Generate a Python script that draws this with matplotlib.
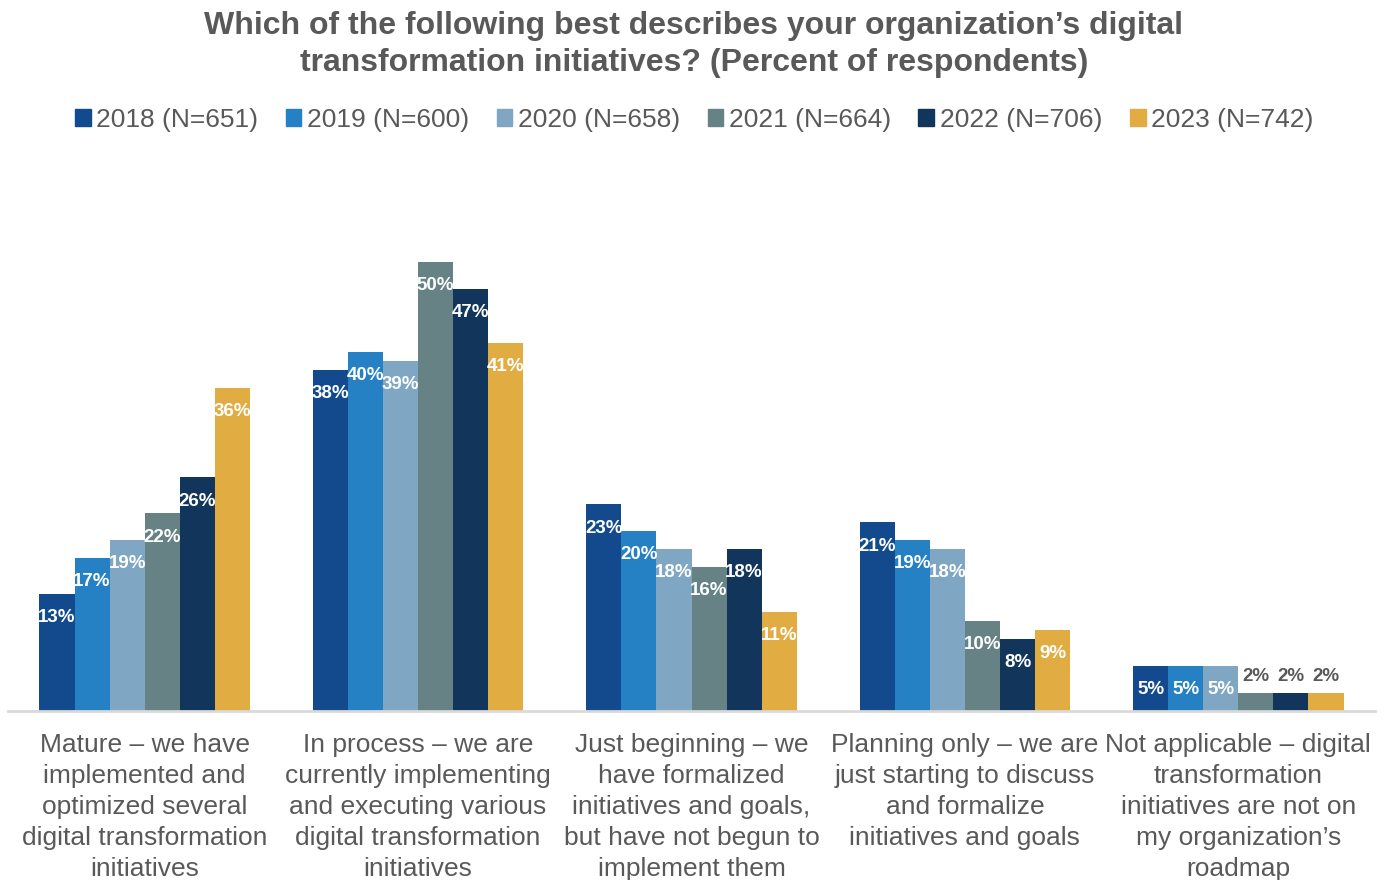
import matplotlib
matplotlib.use("Agg")
import matplotlib.pyplot as plt
from matplotlib.patches import Patch
import numpy as np

plt.rcParams['font.family'] = ['Liberation Sans', 'DejaVu Sans']

categories = [
    "Mature – we have\nimplemented and\noptimized several\ndigital transformation\ninitiatives",
    "In process – we are\ncurrently implementing\nand executing various\ndigital transformation\ninitiatives",
    "Just beginning – we\nhave formalized\ninitiatives and goals,\nbut have not begun to\nimplement them",
    "Planning only – we are\njust starting to discuss\nand formalize\ninitiatives and goals",
    "Not applicable – digital\ntransformation\ninitiatives are not on\nmy organization’s\nroadmap",
]
series_names = ["2018 (N=651)", "2019 (N=600)", "2020 (N=658)",
                "2021 (N=664)", "2022 (N=706)", "2023 (N=742)"]
v2018 = [13, 38, 23, 21, 5]
v2019 = [17, 40, 20, 19, 5]
v2020 = [19, 39, 18, 18, 5]
v2021 = [22, 50, 16, 10, 2]
v2022 = [26, 47, 18, 8, 2]
v2023 = [36, 41, 11, 9, 2]
series = [v2018, v2019, v2020, v2021, v2022, v2023]
colors = ["#134A8E", "#2581C4", "#7FA7C4", "#668285", "#12355B", "#E1AD42"]

fig = plt.figure(figsize=(13.88, 8.8), dpi=100)
ax = fig.add_axes([8/1388, 0.192, 1367/1388, 0.6125])

n = len(series)
x = np.arange(len(categories))
group_w = 0.77
bw = group_w / n
for i, (vals, c) in enumerate(zip(series, colors)):
    xs = x - group_w/2 + bw*(i+0.5)
    ax.bar(xs, vals, width=bw, color=c, edgecolor=c, linewidth=0)
    for xi, v in zip(xs, vals):
        if v >= 5:
            ax.annotate(f"{v}%", (xi, v), xytext=(0, -17), textcoords="offset points",
                        ha="center", va="center", color="white", fontsize=13.5,
                        fontweight="bold")
        else:
            ax.annotate(f"{v}%", (xi, v), xytext=(0, 12), textcoords="offset points",
                        ha="center", va="center", color="#595959", fontsize=13.5,
                        fontweight="bold")

ax.set_xlim(-0.5, len(categories)-0.5)
ax.set_ylim(0, 60)
ax.set_yticks([])
ax.set_xticks(x)
ax.set_xticklabels(categories, fontsize=19, color="#595959", linespacing=1.37, va="top")
ax.tick_params(axis="x", length=0, pad=16)
for s in ["top", "right", "left"]:
    ax.spines[s].set_visible(False)
ax.spines["bottom"].set_color("#D9D9D9")
ax.spines["bottom"].set_linewidth(2)

handles = [Patch(facecolor=c, edgecolor=c) for c in colors]
fig.legend(handles, series_names, loc="center", bbox_to_anchor=(0.5, 1 - 120/880),
           ncol=6, frameon=False, fontsize=19, labelcolor="#595959",
           handlelength=0.6, handleheight=0.6, handletextpad=0.2, columnspacing=1.05)

fig.text(0.5, 1 - 44.5/880,
         "Which of the following best describes your organization’s digital\ntransformation initiatives? (Percent of respondents)",
         ha="center", va="center", fontsize=23, fontweight="bold", color="#595959",
         linespacing=1.31)

fig.savefig("out.png", dpi=100)
